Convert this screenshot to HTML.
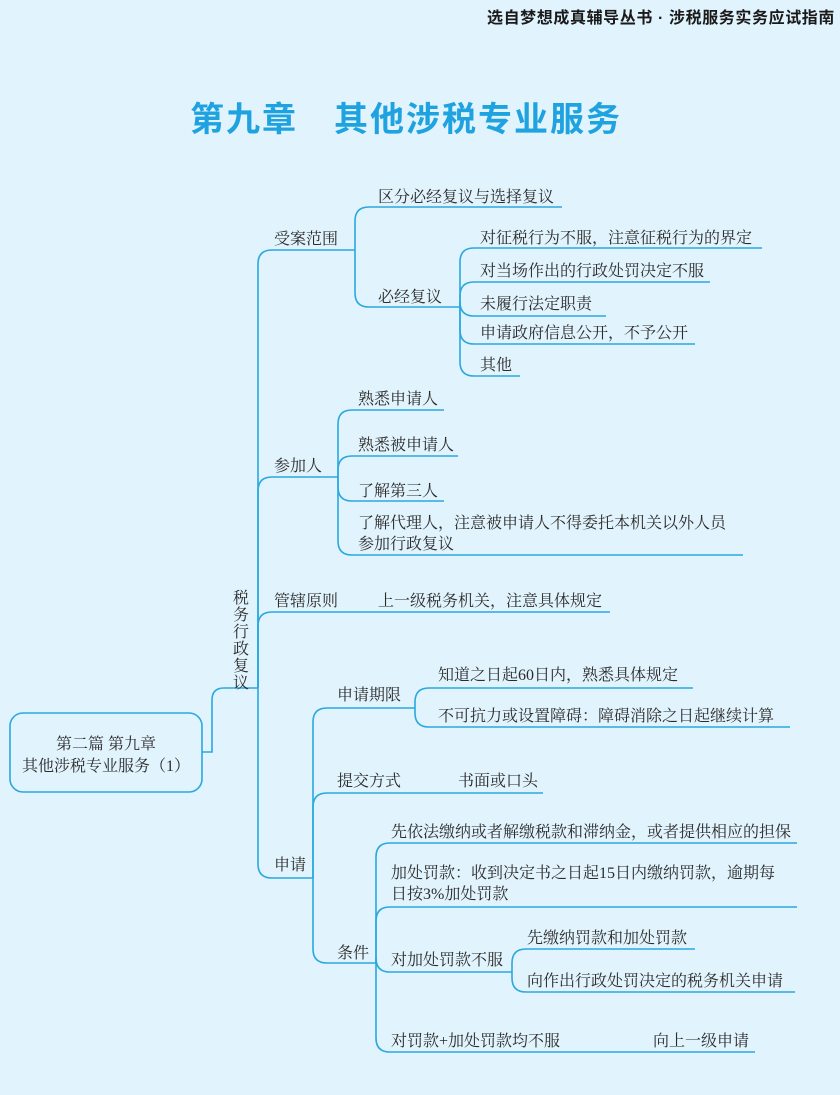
<!DOCTYPE html>
<html><head><meta charset="utf-8">
<style>
html,body{margin:0;padding:0;background:#e1f3fc;}
svg{display:block;}
.t{font-family:"Liberation Serif","Noto Serif CJK SC",serif;font-size:16px;fill:#2b2b2b;}
</style></head>
<body>
<svg id="s" width="840" height="1095" viewBox="0 0 840 1095" xmlns="http://www.w3.org/2000/svg">
<rect width="840" height="1095" fill="#e1f3fc"/>
<text x="835" y="23" text-anchor="end" style="font-family:'Liberation Sans','Noto Sans CJK SC',sans-serif;font-size:16px;font-weight:bold;fill:#1a1a1a;letter-spacing:0.6px">选自梦想成真辅导丛书 · 涉税服务实务应试指南</text>
<text x="190" y="131" style="font-family:'Liberation Sans','Noto Sans CJK SC',sans-serif;font-size:34px;font-weight:bold;fill:#1ea3e0;letter-spacing:2px">第九章　其他涉税专业服务</text>
<g id="lines" fill="none" stroke="#2aa8e0" stroke-width="1.6"></g>
<rect x="10" y="713" width="192" height="79" rx="13" fill="none" stroke="#2aa8e0" stroke-width="1.6"/>
<text class="t" x="106" y="749" text-anchor="middle">第二篇  第九章</text>
<text class="t" x="106" y="771" text-anchor="middle">其他涉税专业服务（1）</text>
<g class="t" text-anchor="middle">
<text x="241" y="603">税</text><text x="241" y="620">务</text><text x="241" y="637">行</text><text x="241" y="654">政</text><text x="241" y="671">复</text><text x="241" y="688">议</text>
</g>
<g class="t">
<text x="274" y="244">受案范围</text>
<text x="378" y="202">区分必经复议与选择复议</text>
<text x="378" y="302">必经复议</text>
<text x="480" y="243">对征税行为不服，注意征税行为的界定</text>
<text x="480" y="276">对当场作出的行政处罚决定不服</text>
<text x="480" y="309">未履行法定职责</text>
<text x="480" y="338">申请政府信息公开，不予公开</text>
<text x="480" y="370">其他</text>
<text x="274" y="471">参加人</text>
<text x="358" y="404">熟悉申请人</text>
<text x="358" y="450">熟悉被申请人</text>
<text x="358" y="496">了解第三人</text>
<text x="358" y="528">了解代理人，注意被申请人不得委托本机关以外人员</text>
<text x="358" y="549">参加行政复议</text>
<text x="274" y="606">管辖原则</text>
<text x="378" y="606">上一级税务机关，注意具体规定</text>
<text x="274" y="870">申请</text>
<text x="337" y="700">申请期限</text>
<text x="438" y="680">知道之日起60日内，熟悉具体规定</text>
<text x="438" y="721">不可抗力或设置障碍：障碍消除之日起继续计算</text>
<text x="337" y="786">提交方式</text>
<text x="458" y="786">书面或口头</text>
<text x="337" y="958">条件</text>
<text x="391" y="837">先依法缴纳或者解缴税款和滞纳金，或者提供相应的担保</text>
<text x="391" y="878">加处罚款：收到决定书之日起15日内缴纳罚款，逾期每</text>
<text x="391" y="899">日按3%加处罚款</text>
<text x="391" y="965">对加处罚款不服</text>
<text x="527" y="943">先缴纳罚款和加处罚款</text>
<text x="527" y="986">向作出行政处罚决定的税务机关申请</text>
<text x="391" y="1046">对罚款+加处罚款均不服</text>
<text x="653" y="1046">向上一级申请</text>
</g>
</svg>
<script>
var g=document.getElementById('lines'),r=14,d=[];
function br(sx,py,kids){kids.forEach(function(k){var cy=k[0],ex=k[1];
 if(Math.abs(cy-py)<1){d.push('M'+sx+' '+cy+'H'+ex);return;}
 var s=cy<py?1:-1;
 d.push('M'+sx+' '+py+'V'+(cy+s*r)+'Q'+sx+' '+cy+' '+(sx+r)+' '+cy+'H'+ex);});}
d.push('M202 752H212V700Q212 688 224 688H258');
br(258,688,[[250,355],[477,338],[612,610],[878,313]]);
br(355,250,[[207,562],[307,460]]);
br(460,307,[[248,762],[282,710],[316,606],[344,695],[376,520]]);
br(338,477,[[410,444],[456,458],[501,444],[555,743]]);
br(313,878,[[708,415],[793,543],[963,376]]);
br(415,708,[[688,693],[727,790]]);
br(376,963,[[843,797],[907,797],[972,512],[1052,755]]);
br(512,972,[[949,695],[992,795]]);
d.forEach(function(p){var e=document.createElementNS('http://www.w3.org/2000/svg','path');e.setAttribute('d',p);g.appendChild(e);});
</script>
</body></html>
